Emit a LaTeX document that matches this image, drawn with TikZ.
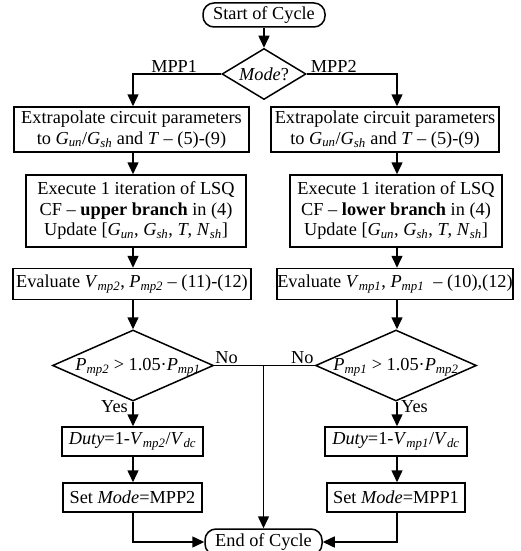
\documentclass[tikz,border=0pt]{standalone}
\usepackage{fontspec}
\setmainfont{Liberation Serif}
\usepackage{tikz}
\usetikzlibrary{calc,positioning,shapes.geometric,arrows.meta}
\newcommand{\isub}[2]{\textit{#1}\textsubscript{\textit{#2}}}
\tikzset{
  proc/.style={rectangle, draw=black, line width=1.5pt, align=center, inner sep=0pt},
  term/.style={rectangle, draw=black, line width=1.5pt, rounded corners=11pt, inner sep=0pt},
  decis/.style={diamond, draw=black, line width=1.5pt, inner sep=0pt},
  line/.style={draw, line width=1.5pt, -{Triangle[length=12pt,width=11pt]}},
  lab/.style={inner sep=1pt},
}
\begin{document}
\begin{tikzpicture}[x=1pt, y=-1pt, font=\fontsize{18.3}{20.5}\selectfont]
   \useasboundingbox (0,0) rectangle (521,551);
   \coordinate (colL) at (133,0);
   \coordinate (colR) at (397,0);

   \node[term, minimum width=122pt, minimum height=24pt] (start) at (264,15) {Start of Cycle};
   \node[decis, minimum width=84pt, minimum height=51pt] (mode) at (264,74) {};
   \node[lab] (modet) at (mode) {\textit{Mode}?};

   % left branch
   \node[proc, minimum width=235pt, minimum height=45pt] (e1L) at (131.5,129.5)
      {Extrapolate circuit parameters\\ to \isub{G}{un}/\isub{G}{sh} and \textit{T} -- (5)-(9)};
   \node[proc, minimum width=220pt, minimum height=72pt] (e2L) at (136,211)
      {Execute 1 iteration of LSQ\\ CF -- \textbf{upper branch} in (4)\\ Update [\isub{G}{un}, \isub{G}{sh}, \textit{T}, \isub{N}{sh}]};
   \node[proc, minimum width=238pt, minimum height=31pt] (e3L) at (132,284)
      {Evaluate \isub{V}{mp2}, \isub{P}{mp2} -- (11)-(12)};
   \node[decis, minimum width=161pt, minimum height=71pt] (d1) at (133,365.5) {};
   \node[lab] (d1t) at ([xshift=5pt, yshift=-2pt]d1) {\isub{P}{mp2} > 1.05·\isub{P}{mp1}};
   \node[proc, minimum width=141pt, minimum height=29pt] (dutyL) at (132.5,441.5)
      {\textit{Duty}=1-\isub{V}{mp2}/\isub{V}{dc}};
   \node[proc, minimum width=139pt, minimum height=29pt] (setL) at (132.5,497.5)
      {Set \textit{Mode}=MPP2};

   % right branch
   \node[proc, minimum width=228pt, minimum height=45pt] (e1R) at (385,129.5)
      {Extrapolate circuit parameters\\ to \isub{G}{un}/\isub{G}{sh} and \textit{T} -- (5)-(9)};
   \node[proc, minimum width=212pt, minimum height=72pt] (e2R) at (396,211)
      {Execute 1 iteration of LSQ\\ CF -- \textbf{lower branch} in (4)\\ Update [\isub{G}{un}, \isub{G}{sh}, \textit{T}, \isub{N}{sh}]};
   \node[proc, minimum width=236pt, minimum height=31pt] (e3R) at (395,284)
      {Evaluate \isub{V}{mp1}, \isub{P}{mp1}\ \ -- (10),(12)};
   \node[decis, minimum width=161pt, minimum height=71pt] (d2) at (396,365.5) {};
   \node[lab] (d2t) at ([yshift=-2pt]d2) {\isub{P}{mp1} > 1.05·\isub{P}{mp2}};
   \node[proc, minimum width=142pt, minimum height=29pt] (dutyR) at (396,441.5)
      {\textit{Duty}=1-\isub{V}{mp1}/\isub{V}{dc}};
   \node[proc, minimum width=138pt, minimum height=29pt] (setR) at (396,497.5)
      {Set \textit{Mode}=MPP1};

   \node[term, minimum width=117pt, minimum height=26pt] (endc) at (263.5,542) {End of Cycle};

   % labels
   \node[lab, anchor=base east] (mpp1) at ([xshift=-23pt, yshift=2pt]mode.west) {MPP1};
   \node[lab, anchor=base west] (mpp2) at ([xshift=3pt, yshift=2pt]mode.east) {MPP2};
   \node[lab, anchor=base west] (no1) at ([xshift=0pt, yshift=2pt]d1.east) {No};
   \node[lab, anchor=base east] (no2) at ([xshift=0pt, yshift=2pt]d2.west) {No};
   \node[lab, anchor=base east] (yes1) at ([xshift=-4pt, yshift=-11pt]d1.south) {Yes};
   \node[lab, anchor=base west] (yes2) at ([xshift=4pt, yshift=-11pt]d2.south) {Yes};

   % connectors
   \path[line] (start) -- (mode);
   \path[line] (mode.west) -| (colL |- e1L.north);
   \path[line] (mode.east) -| (colR |- e1R.north);
   \path[line] (colL |- e1L.south) -- (colL |- e2L.north);
   \path[line] (colR |- e1R.south) -- (colR |- e2R.north);
   \path[line] (colL |- e2L.south) -- (colL |- e3L.north);
   \path[line] (colR |- e2R.south) -- (colR |- e3R.north);
   \path[line] (colL |- e3L.south) -- (colL |- d1.north);
   \path[line] (colR |- e3R.south) -- (colR |- d2.north);
   \path[line] (colL |- d1.south) -- (colL |- dutyL.north);
   \path[line] (colR |- d2.south) -- (colR |- dutyR.north);
   \path[line] (colL |- dutyL.south) -- (colL |- setL.north);
   \path[line] (colR |- dutyR.south) -- (colR |- setR.north);
   \draw[line width=1.5pt] (d1.east) -- (d2.west);
   \path[line] (d1.east -| endc.north) -- (endc.north);
   \path[line] (colL |- setL.south) |- (endc.west);
   \path[line] (colR |- setR.south) |- (endc.east);
\end{tikzpicture}
\end{document}
